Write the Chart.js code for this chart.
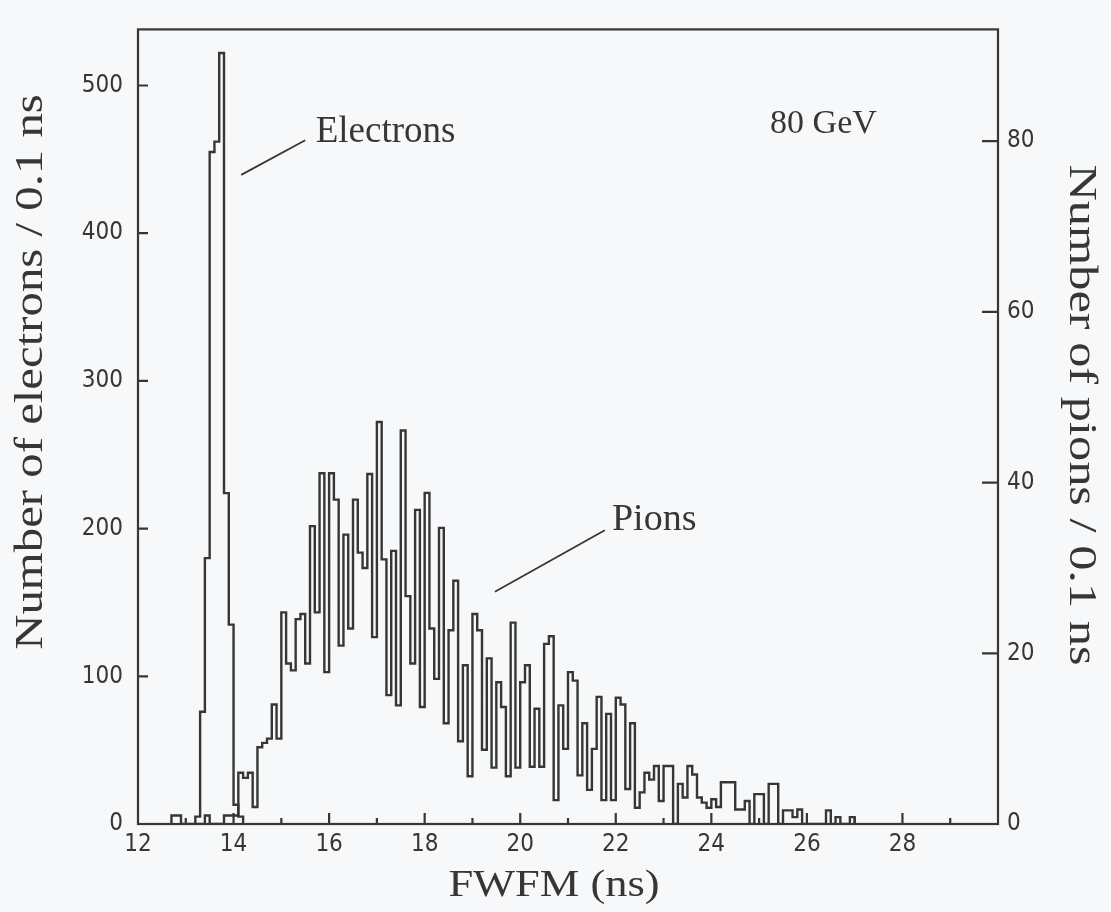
<!DOCTYPE html>
<html>
<head>
<meta charset="utf-8">
<script src="https://cdn.jsdelivr.net/npm/chart.js@4/dist/chart.umd.min.js"></script>
<style>
  html, body { margin: 0; padding: 0; background: #f7f8fa; }
  #wrap { width: 1111px; height: 912px; position: relative; }
</style>
</head>
<body>
<div id="wrap"><canvas id="c"></canvas></div>
<script>
// FWFM distributions at 80 GeV, 0.1 ns bins
const binWidth = 0.1;

// electrons (left axis), first bin starts at 13.2 ns
const electronFirstBin = 13.2;
const electronCounts = [5, 76, 180, 455, 462, 522, 224, 135, 13, 5];

// pions (right axis), first bin starts at 12.7 ns
const pionFirstBin = 12.7;
const pionCounts = [
  1, 1, 0, 0, 0, 0, 0, 1, 0, 0,          // 12.7 - 13.6
  0, 1, 1, 1, 6, 5.4, 6, 2, 9, 9.5,      // 13.7 - 14.6
  10, 14, 10, 24.8, 18.8, 18, 24, 24.6, 18.8, 34.9,   // 14.7 - 15.6
  24.8, 41.1, 17.8, 41.1, 38, 20.9, 33.9, 22.9, 38, 31.8, // 15.7 - 16.6
  30, 41, 21.9, 47.1, 31, 15.1, 32, 13.9, 46.1, 26.7,  // 16.7 - 17.6
  18.8, 36.8, 13.7, 38.8, 22.9, 17, 34.7, 11.8, 22.7, 28.5, // 17.7 - 18.6
  9.7, 18.6, 5.6, 24.6, 22.7, 8.7, 19.4, 6.6, 16.6, 13.7, // 18.7 - 19.6
  5.6, 23.6, 6.6, 16.6, 18.6, 6.7, 13.5, 6.7, 21.1, 22,  // 19.7 - 20.6
  2.8, 13.9, 8.8, 17.8, 16.8, 5.7, 11.8, 4, 8.8, 14.9,   // 20.7 - 21.6
  2.8, 12.9, 2.8, 14.8, 14, 4.1, 11.8, 1.9, 3.7, 6,     // 21.7 - 22.6
  5.2, 6.8, 2.7, 6.8, 6.8, 0, 4.7, 3.1, 6.8, 5.8,       // 22.7 - 23.6
  3.1, 2.5, 1.9, 2.9, 2, 4.9, 4.9, 4.9, 1.7, 1.7,       // 23.7 - 24.6
  2.7, 0, 3.5, 3.5, 0, 4.7, 4.7, 0, 1.6, 1.6,           // 24.7 - 25.6
  0.8, 1.7, 0, 0, 0, 0, 0, 1.6, 0, 0.8,                 // 25.7 - 26.6
  0, 0, 0.8                                             // 26.7 - 26.9
];

const xRange = [12, 30];
const leftRange = [0, 538];
const rightRange = [0, 93.1];
const leftTickStep = 100;
const rightTickStep = 20;

// text labels placed in data coordinates (x in ns, y on the electron axis)
const notes = [
  { text: 'Electrons', x: 15.72, y: 462, size: 37 },
  { text: 'Pions', x: 21.92, y: 199, size: 38 },
  { text: '80 GeV', x: 25.23, y: 468, size: 34 }
];
const leaders = [
  { from: [14.16, 439.5], to: [15.5, 463] },
  { from: [19.47, 157.3], to: [21.77, 198.9] }
];

const ink = '#363636';
const tickFont = { family: '"DejaVu Sans Condensed", "DejaVu Sans", sans-serif', size: 24 };

function outline(first, counts) {
  const pts = [{ x: first, y: 0 }];
  counts.forEach((c, i) => pts.push({ x: +(first + i * binWidth).toFixed(2), y: c }));
  pts.push({ x: +(first + counts.length * binWidth).toFixed(2), y: 0 });
  return pts;
}

function drawStretched(ctx, text, cx, cy, angle, sx, font) {
  ctx.save();
  ctx.translate(cx, cy);
  ctx.rotate(angle);
  ctx.scale(sx, 1);
  ctx.font = font;
  ctx.textAlign = 'center';
  ctx.textBaseline = 'middle';
  ctx.fillStyle = ink;
  ctx.fillText(text, 0, 0);
  ctx.restore();
}

const decorations = {
  id: 'decorations',
  afterDraw(chart) {
    const { ctx, chartArea: a, scales } = chart;
    const sx = scales.x, sy = scales.y, sy2 = scales.y2;
    ctx.save();
    ctx.strokeStyle = ink;
    ctx.lineWidth = 2.2;
    ctx.lineCap = 'butt';

    // frame
    ctx.strokeRect(a.left, a.top, a.right - a.left, a.bottom - a.top);

    // inward tick marks
    ctx.beginPath();
    sx.ticks.forEach(t => {
      const p = sx.getPixelForValue(t.value);
      if (t.value <= xRange[0] || t.value >= xRange[1]) return;
      const len = t.value % 2 === 0 ? 11 : 6;
      ctx.moveTo(p, a.bottom);
      ctx.lineTo(p, a.bottom - len);
    });
    sy.ticks.forEach(t => {
      if (t.value <= 0) return;
      const p = sy.getPixelForValue(t.value);
      ctx.moveTo(a.left, p);
      ctx.lineTo(a.left + 10, p);
    });
    sy2.ticks.forEach(t => {
      if (t.value <= 0) return;
      const p = sy2.getPixelForValue(t.value);
      ctx.moveTo(a.right, p);
      ctx.lineTo(a.right - 16, p);
    });
    ctx.stroke();

    // leader lines
    ctx.lineWidth = 1.8;
    ctx.beginPath();
    leaders.forEach(l => {
      ctx.moveTo(sx.getPixelForValue(l.from[0]), sy.getPixelForValue(l.from[1]));
      ctx.lineTo(sx.getPixelForValue(l.to[0]), sy.getPixelForValue(l.to[1]));
    });
    ctx.stroke();

    // annotations
    ctx.fillStyle = ink;
    ctx.textAlign = 'left';
    ctx.textBaseline = 'alphabetic';
    notes.forEach(n => {
      ctx.font = n.size + 'px "Liberation Serif", "Times New Roman", serif';
      ctx.fillText(n.text, sx.getPixelForValue(n.x), sy.getPixelForValue(n.y));
    });

    // axis titles
    const serif = '"Liberation Serif", "Times New Roman", serif';
    drawStretched(ctx, 'Number of electrons / 0.1 ns', 31, 372, -Math.PI / 2, 1.22, '40px ' + serif);
    drawStretched(ctx, 'Number of pions / 0.1 ns', 1080, 415, Math.PI / 2, 1.26, '40px ' + serif);
    drawStretched(ctx, 'FWFM (ns)', 554, 886, 0, 1.17, '38px ' + serif);
    ctx.restore();
  }
};

new Chart(document.getElementById('c'), {
  type: 'line',
  data: {
    datasets: [
      {
        label: 'Electrons',
        data: outline(electronFirstBin, electronCounts),
        yAxisID: 'y',
        stepped: 'before',
        borderColor: ink,
        borderWidth: 2.4,
        pointRadius: 0,
        fill: false
      },
      {
        label: 'Pions',
        data: outline(pionFirstBin, pionCounts),
        yAxisID: 'y2',
        stepped: 'before',
        borderColor: ink,
        borderWidth: 2.4,
        pointRadius: 0,
        fill: false
      }
    ]
  },
  options: {
    responsive: true,
    maintainAspectRatio: false,
    animation: false,
    events: [],
    layout: { padding: { top: 23, left: 0, right: 0, bottom: 0 } },
    plugins: { legend: { display: false }, tooltip: { enabled: false } },
    scales: {
      x: {
        type: 'linear',
        min: xRange[0],
        max: xRange[1],
        grid: { display: false, drawTicks: false },
        border: { display: false },
        afterFit: s => { s.height = 88; },
        ticks: {
          stepSize: 1,
          autoSkip: false,
          maxRotation: 0,
          padding: 6,
          color: ink,
          font: tickFont,
          callback: v => (v % 2 === 0 && v < xRange[1]) ? String(v) : ''
        }
      },
      y: {
        position: 'left',
        min: leftRange[0],
        max: leftRange[1],
        grid: { display: false, drawTicks: false },
        border: { display: false },
        afterFit: s => { s.width = 138; },
        ticks: {
          stepSize: leftTickStep,
          includeBounds: false,
          padding: 15,
          color: ink,
          font: tickFont
        }
      },
      y2: {
        position: 'right',
        min: rightRange[0],
        max: rightRange[1],
        grid: { display: false, drawTicks: false },
        border: { display: false },
        afterFit: s => { s.width = 113; },
        ticks: {
          stepSize: rightTickStep,
          includeBounds: false,
          padding: 9,
          color: ink,
          font: tickFont
        }
      }
    }
  },
  plugins: [decorations]
});
</script>
</body>
</html>
